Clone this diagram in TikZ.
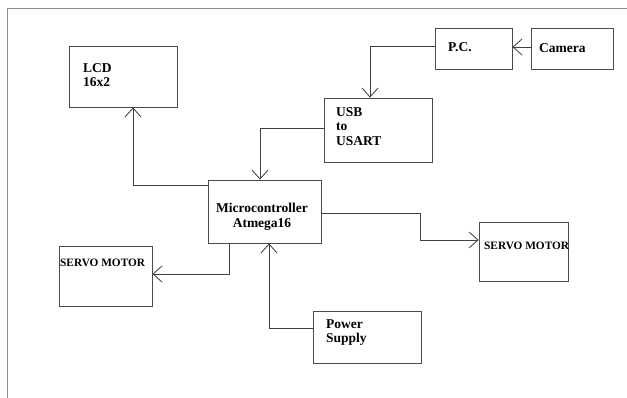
\documentclass[tikz,border=0pt]{standalone}
\usepackage{fontspec}
\setmainfont{Liberation Serif}
\usetikzlibrary{arrows.meta}
\begin{document}
\begin{tikzpicture}[x=1pt,y=-1pt,
  box/.style={draw=black!70, line width=0.8pt, rectangle, inner sep=0pt},
  lbl/.style={inner sep=0pt, anchor=north west, align=left, font=\fontsize{13.5}{14.5}\selectfont\bfseries},
  slbl/.style={inner sep=0pt, anchor=north west, font=\fontsize{11.3}{13}\selectfont\bfseries},
  arr/.style={draw=black!75, line width=0.8pt, -{Straight Barb[length=9pt,width=16pt]}}]
\useasboundingbox (0,0) rectangle (627,398);
\fill[white] (0,0) rectangle (627,398);
\draw[black!45, line width=1pt] (7,398) -- (7,9) -- (627,9);
% boxes
\node[box, minimum width=108pt, minimum height=61pt] (lcd) at (123,76.5) {};
\node[box, minimum width=108pt, minimum height=64pt] (usb) at (378,130) {};
\node[box, minimum width=77pt, minimum height=41pt] (pc) at (473.5,48.5) {};
\node[box, minimum width=82pt, minimum height=41pt] (cam) at (572,48.5) {};
\node[box, minimum width=113pt, minimum height=63pt] (micro) at (264.5,211.5) {};
\node[box, minimum width=93pt, minimum height=60pt] (servoL) at (105.5,276) {};
\node[box, minimum width=89pt, minimum height=59pt] (servoR) at (523.5,251.5) {};
\node[box, minimum width=108pt, minimum height=52pt] (power) at (367,337) {};
% texts
\node[lbl] (lcdt) at (83,63) {LCD\\16x2};
\node[lbl] (usbt) at (336,107) {USB\\to\\USART};
\node[lbl] (pct) at (448,42) {P.C.};
\node[lbl] (camt) at (539,43) {Camera};
\node[lbl, anchor=north, align=center] (microt) at (262,203) {Microcontroller\\Atmega16};
\node[slbl] (servoLt) at (60,259) {SERVO MOTOR};
\node[slbl] (servoRt) at (484,242) {SERVO MOTOR};
\node[lbl] (powert) at (326,319) {Power\\Supply};
% connectors
\draw[arr] ([yshift=-6pt]micro.north west) -| ([xshift=10pt]lcd.south);
\draw[arr] ([yshift=2pt]usb.west) -| ([xshift=-4.5pt]micro.north);
\draw[arr] ([yshift=2.5pt]pc.west) -| ([xshift=-8pt]usb.north);
\draw[arr] ([yshift=1.5pt]cam.west) -- ([yshift=1.5pt]pc.east);
\draw[arr] ([xshift=-35.5pt]micro.south) |- ([yshift=2pt]servoL.east);
\draw[arr] ([yshift=9pt]power.west) -| ([xshift=4.5pt]micro.south);
\draw[arr] ([yshift=-1.5pt]micro.east) -- ++(99,0) |- ([yshift=11.5pt]servoR.west);
\end{tikzpicture}
\end{document}
